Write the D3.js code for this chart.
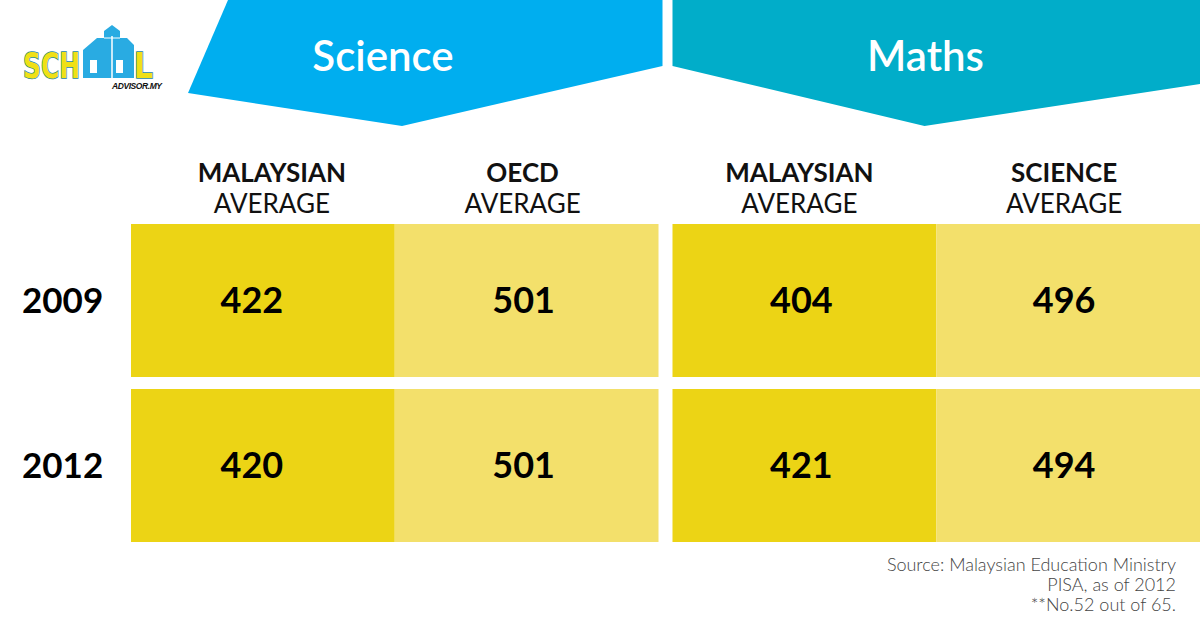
<!DOCTYPE html>
<html>
<head>
<meta charset="utf-8">
<script src="https://cdn.jsdelivr.net/npm/d3@7"></script>
<style>
  body { margin: 0; background: #fff; }
  svg { display: block; font-family: Lato, "Open Sans", sans-serif; }
</style>
</head>
<body>
<svg id="tabela"></svg>
<script>
// dados
let anos = ["2009", "2012"];
let materias = ["Science", "Maths"];
let colunas = [
  { materia: "Science", linha1: "MALAYSIAN", linha2: "AVERAGE" },
  { materia: "Science", linha1: "OECD", linha2: "AVERAGE" },
  { materia: "Maths", linha1: "MALAYSIAN", linha2: "AVERAGE" },
  { materia: "Maths", linha1: "SCIENCE", linha2: "AVERAGE" }
];
// um valor por coluna, na ordem dos anos
let valores2009 = [422, 501, 404, 496];
let valores2012 = [420, 501, 421, 494];
let fonte = ["Source: Malaysian Education Ministry", "PISA, as of 2012", "**No.52 out of 65."];

let width = 1200, height = 630;
let svg = d3.select("#tabela")
  .attr("width", width)
  .attr("height", height)
  .attr("viewBox", "0 0 " + width + " " + height);

let corMateria = d3.scaleOrdinal().domain(materias).range(["#00aeef", "#01adc9"]);
let corCelula = ["#ecd415", "#f3e06b"];

// escala das matérias (grupos de colunas) com espaço de 14px entre elas
let x = d3.scaleBand().domain(materias).range([131, 1200]).paddingInner(28 / 1083);
let xInterno = d3.scaleBand().domain([0, 1]).range([0, x.bandwidth()]);
let y = d3.scaleBand().domain(anos).range([224, 542]).paddingInner(24 / 330);

// pequenos deslocamentos do texto em relação ao centro da célula (como no original)
let ajusteCab = [9, -4, -5, -4];
let ajusteValor = [-11, -3, -3, -4];

let linhas = anos.map(function(ano, i){
  let v = i == 0 ? valores2009 : valores2012;
  return colunas.map(function(c, j){
    return { ano: ano, materia: c.materia, pos: j % 2, col: j, valor: v[j] };
  });
});

function colX(d){ return x(d.materia) + xInterno(d.pos); }

// faixas dos títulos
let faixas = {
  Science: function(x0, x1){ return [[x0 + 97, 0], [x1 + 4, 0], [x1 + 4, 66], [x0 + 271, 126], [x0 + 57, 93]]; },
  Maths: function(x0, x1){ return [[x0, 0], [x1, 0], [x1, 84], [x0 + 252, 126], [x0, 66]]; }
};
svg.append("g").selectAll("polygon")
  .data(materias)
  .enter().append("polygon")
  .attr("points", function(m){
    return faixas[m](x(m), x(m) + x.bandwidth()).map(p => p.join(",")).join(" ");
  })
  .attr("fill", m => corMateria(m));

svg.append("g").selectAll("text")
  .data(materias)
  .enter().append("text")
  .attr("x", m => m == "Science" ? x(m) + 252 : x(m) + 253)
  .attr("y", 71)
  .attr("text-anchor", "middle")
  .attr("fill", "#fff")
  .attr("font-size", 42)
  .attr("font-weight", 600)
  .text(m => m);

// cabeçalhos das colunas
let cab = svg.append("g").selectAll("text")
  .data(colunas)
  .enter().append("text")
  .attr("text-anchor", "middle")
  .attr("font-size", 26)
  .attr("fill", "#111");
cab.append("tspan")
  .attr("x", (d, j) => colX({ materia: d.materia, pos: j % 2 }) + xInterno.bandwidth() / 2 + ajusteCab[j])
  .attr("y", 182)
  .attr("font-weight", 700)
  .text(d => d.linha1);
cab.append("tspan")
  .attr("x", (d, j) => colX({ materia: d.materia, pos: j % 2 }) + xInterno.bandwidth() / 2 + ajusteCab[j])
  .attr("y", 213)
  .attr("font-weight", 400)
  .text(d => d.linha2);

// células
let grupoLinhas = svg.append("g").selectAll("g")
  .data(linhas)
  .enter().append("g");

grupoLinhas.selectAll("rect")
  .data(d => d)
  .enter().append("rect")
  .attr("x", colX)
  .attr("y", d => y(d.ano))
  .attr("width", xInterno.bandwidth())
  .attr("height", y.bandwidth())
  .attr("fill", d => corCelula[d.pos]);

grupoLinhas.selectAll("text")
  .data(d => d)
  .enter().append("text")
  .attr("x", d => colX(d) + xInterno.bandwidth() / 2 + ajusteValor[d.col])
  .attr("y", d => y(d.ano) + y.bandwidth() / 2)
  .attr("dy", "0.36em")
  .attr("text-anchor", "middle")
  .attr("font-size", 36)
  .attr("font-weight", 700)
  .attr("fill", "#000")
  .text(d => d.valor);

// rótulos dos anos
svg.append("g").selectAll("text")
  .data(anos)
  .enter().append("text")
  .attr("x", 22)
  .attr("y", a => y(a) + y.bandwidth() / 2)
  .attr("dy", "0.36em")
  .attr("font-size", 35)
  .attr("font-weight", 700)
  .attr("fill", "#000")
  .text(a => a);

// fonte
svg.append("g").selectAll("text")
  .data(fonte)
  .enter().append("text")
  .attr("x", 1176)
  .attr("y", (d, i) => 571 + i * 20)
  .attr("text-anchor", "end")
  .attr("font-size", 18)
  .attr("font-weight", 300)
  .attr("fill", "#444")
  .text(d => d);

// logo (aproximado)
let logo = svg.append("g");
logo.append("polygon")
  .attr("points", "83,50 97,38 104,38 104,31 112,25 120,31 120,38 127,38 134,45 134,78 83,78")
  .attr("fill", "#29abe2");
logo.append("line").attr("x1", 112).attr("x2", 112).attr("y1", 36).attr("y2", 78)
  .attr("stroke", "#fff").attr("stroke-width", 1.5);
logo.append("line").attr("x1", 104).attr("x2", 120).attr("y1", 38).attr("y2", 38)
  .attr("stroke", "#fff").attr("stroke-width", 1);
logo.selectAll("rect.janela")
  .data([90, 116])
  .enter().append("rect")
  .attr("class", "janela")
  .attr("x", d => d).attr("y", 60).attr("width", 7).attr("height", 13)
  .attr("fill", "#fff");
logo.append("text")
  .attr("x", 23).attr("y", 78)
  .attr("font-family", "'DejaVu Sans Condensed', 'Liberation Sans', sans-serif")
  .attr("font-weight", 700)
  .attr("font-size", 35)
  .attr("fill", "#f0e016")
  .attr("stroke", "#1b86a0")
  .attr("stroke-width", 1.5)
  .attr("paint-order", "stroke")
  .attr("textLength", 57)
  .attr("lengthAdjust", "spacingAndGlyphs")
  .text("SCH");
logo.append("text")
  .attr("x", 134).attr("y", 78)
  .attr("font-family", "'DejaVu Sans Condensed', 'Liberation Sans', sans-serif")
  .attr("font-weight", 700)
  .attr("font-size", 35)
  .attr("fill", "#f0e016")
  .attr("stroke", "#1b86a0")
  .attr("stroke-width", 1.5)
  .attr("paint-order", "stroke")
  .attr("textLength", 19)
  .attr("lengthAdjust", "spacingAndGlyphs")
  .text("L");
logo.append("text")
  .attr("x", 112).attr("y", 89)
  .attr("font-family", "'Liberation Sans', sans-serif")
  .attr("font-weight", 700)
  .attr("font-style", "italic")
  .attr("font-size", 8.5)
  .attr("fill", "#111")
  .attr("textLength", 50)
  .text("ADVISOR.MY");
</script>
</body>
</html>
